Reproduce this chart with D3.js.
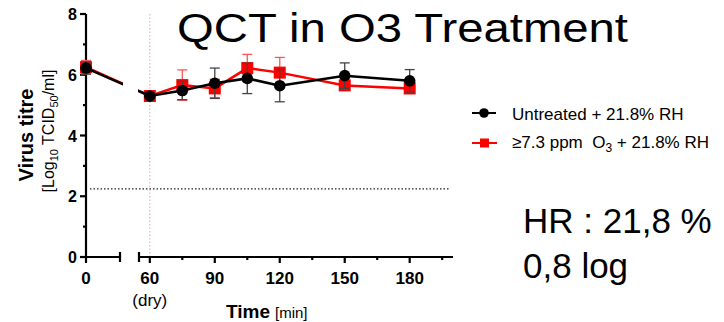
<!DOCTYPE html>
<html>
<head>
<meta charset="utf-8">
<script src="https://cdn.jsdelivr.net/npm/d3@7"></script>
<style>
  body { margin: 0; background: #fff; }
  text { font-family: Arial, "Liberation Sans", sans-serif; }
</style>
</head>
<body>
<div id="chart"></div>
<script>
// data
const times = [0, 60, 75, 90, 105, 120, 150, 180];
const untreatedMean = [6.22, 5.30, 5.48, 5.72, 5.88, 5.64, 5.97, 5.80];
const untreatedSd   = [0.20, 0.10, 0.30, 0.50, 0.50, 0.53, 0.42, 0.37];
const ozoneMean = [6.25, 5.30, 5.66, 5.55, 6.22, 6.07, 5.65, 5.55];
const ozoneSd   = [0.22, 0.10, 0.50, 0.30, 0.45, 0.50, 0.10, 0.17];
const lodValue = 2.24;
const yTicks = [0, 2, 4, 6, 8];
const yMinor = [1, 3, 5, 7];
const xTicks = [0, 60, 90, 120, 150, 180];
const xMinor = [75, 105, 135, 165, 195];

const W = 724, H = 322;
const svg = d3.select("#chart").append("svg")
  .attr("width", W).attr("height", H);

// broken x axis: 0..15 then 55..200
const x = d3.scaleLinear().domain([0, 15, 55, 200]).range([86, 120, 139, 453]);
const y = d3.scaleLinear().domain([0, 8]).range([257, 14]);

// red dotted marker at 60 (dry)
svg.append("line")
  .attr("x1", x(60)).attr("x2", x(60)).attr("y1", y(8)).attr("y2", y(0))
  .attr("stroke", "#f4a0a0").attr("stroke-width", 1).attr("stroke-dasharray", "1.5,2");

// title
svg.append("text").attr("x", 177).attr("y", 42)
  .attr("font-size", 41)
  .attr("textLength", 451).attr("lengthAdjust", "spacingAndGlyphs")
  .text("QCT in O3 Treatment");

// limit of detection
svg.append("line")
  .attr("x1", 90).attr("x2", 450).attr("y1", y(lodValue)).attr("y2", y(lodValue))
  .attr("stroke", "#222").attr("stroke-width", 1.2).attr("stroke-dasharray", "1.5,2");

// axes
const ax = svg.append("g").attr("stroke", "#000").attr("stroke-width", 2.2);
ax.append("line").attr("x1", 86).attr("x2", 86).attr("y1", y(8)).attr("y2", y(0) + 1);
yTicks.forEach(v => ax.append("line").attr("x1", 80).attr("x2", 86).attr("y1", y(v)).attr("y2", y(v)));
yMinor.forEach(v => ax.append("line").attr("x1", 83).attr("x2", 86).attr("y1", y(v)).attr("y2", y(v)));
// x segments
ax.append("line").attr("x1", 85).attr("x2", 120).attr("y1", y(0)).attr("y2", y(0));
ax.append("line").attr("x1", 139).attr("x2", 453).attr("y1", y(0)).attr("y2", y(0));
[120, 139].forEach(px => ax.append("line").attr("x1", px).attr("x2", px)
  .attr("y1", y(0) - 5).attr("y2", y(0) + 5));
xTicks.forEach(v => ax.append("line").attr("x1", x(v)).attr("x2", x(v))
  .attr("y1", y(0)).attr("y2", y(0) + 6));
xMinor.forEach(v => ax.append("line").attr("x1", x(v)).attr("x2", x(v))
  .attr("y1", y(0)).attr("y2", y(0) + 3));

svg.append("g").selectAll("text").data(yTicks).join("text")
  .attr("x", 77).attr("y", d => y(d) + 6)
  .attr("text-anchor", "end").attr("font-size", 16).attr("font-weight", "bold")
  .text(d => d);

svg.append("g").selectAll("text").data(xTicks).join("text")
  .attr("x", d => x(d)).attr("y", y(0) + 27)
  .attr("text-anchor", "middle").attr("font-size", 17).attr("font-weight", "bold")
  .text(d => d);

svg.append("text").attr("x", x(60)).attr("y", 306)
  .attr("text-anchor", "middle").attr("font-size", 17).text("(dry)");

const xt = svg.append("text").attr("x", 226).attr("y", 318);
xt.append("tspan").attr("font-size", 19).attr("font-weight", "bold").text("Time");
xt.append("tspan").attr("font-size", 15).attr("dx", 5).text("[min]");

// y labels
svg.append("text").attr("transform", "translate(33,135) rotate(-90)")
  .attr("text-anchor", "middle").attr("font-size", 20).attr("font-weight", "bold")
  .text("Virus titre");
const yl = svg.append("text").attr("transform", "translate(54,131) rotate(-90)")
  .attr("text-anchor", "middle").attr("font-size", 16);
yl.append("tspan").text("[Log");
yl.append("tspan").attr("font-size", 11).attr("dy", 4).text("10");
yl.append("tspan").attr("dy", -4).text(" TCID");
yl.append("tspan").attr("font-size", 11).attr("dy", 4).text("50");
yl.append("tspan").attr("dy", -4).text("/ml]");

// clip lines at the axis break
const defs = svg.append("defs");
const clip = defs.append("clipPath").attr("id", "brk");
clip.append("rect").attr("x", 0).attr("y", 0).attr("width", 123).attr("height", H);
clip.append("rect").attr("x", 138).attr("y", 0).attr("width", W - 138).attr("height", H);

function series(mean, sd, color, barColor, shape) {
  const pts = times.map((t, i) => ({ t, m: mean[i], s: sd[i] }));
  const g = svg.append("g");
  g.selectAll("g.eb").data(pts).join("g").attr("class", "eb")
    .attr("stroke", barColor).attr("stroke-width", 1.3)
    .each(function (d) {
      const e = d3.select(this);
      e.append("line").attr("x1", x(d.t)).attr("x2", x(d.t))
        .attr("y1", y(d.m + d.s)).attr("y2", y(d.m - d.s));
      [d.m + d.s, d.m - d.s].forEach(v => e.append("line")
        .attr("x1", x(d.t) - 5).attr("x2", x(d.t) + 5).attr("y1", y(v)).attr("y2", y(v)));
    });
  g.append("path").datum(pts)
    .attr("clip-path", "url(#brk)")
    .attr("fill", "none").attr("stroke", color).attr("stroke-width", 2.5)
    .attr("d", d3.line().x(d => x(d.t)).y(d => y(d.m)));
  if (shape === "circle") {
    g.selectAll("circle").data(pts).join("circle")
      .attr("cx", d => x(d.t)).attr("cy", d => y(d.m)).attr("r", 5.8).attr("fill", color);
  } else {
    g.selectAll("rect").data(pts).join("rect")
      .attr("x", d => x(d.t) - 6).attr("y", d => y(d.m) - 6)
      .attr("width", 12).attr("height", 12).attr("fill", color);
  }
}
series(ozoneMean, ozoneSd, "#ff0000", "#f55", "square");
series(untreatedMean, untreatedSd, "#000", "#444", "circle");

// legend
const lg = svg.append("g");
lg.append("line").attr("x1", 472).attr("x2", 496).attr("y1", 113).attr("y2", 113)
  .attr("stroke", "#000").attr("stroke-width", 2);
lg.append("circle").attr("cx", 484).attr("cy", 113).attr("r", 4.8).attr("fill", "#000");
lg.append("text").attr("x", 512).attr("y", 120).attr("font-size", 17)
  .text("Untreated + 21.8% RH");
lg.append("line").attr("x1", 472).attr("x2", 497).attr("y1", 143).attr("y2", 143)
  .attr("stroke", "#ff0000").attr("stroke-width", 2);
lg.append("rect").attr("x", 480).attr("y", 138.5).attr("width", 9).attr("height", 9).attr("fill", "#ff0000");
const l2 = lg.append("text").attr("x", 512).attr("y", 148).attr("font-size", 17)
  .style("white-space", "pre");
l2.append("tspan").text("\u22657.3 ppm  O");
l2.append("tspan").attr("font-size", 12).attr("dy", 4).text("3");
l2.append("tspan").attr("dy", -4).text(" + 21.8% RH");

// annotations
svg.append("text").attr("x", 523).attr("y", 233).attr("font-size", 35).text("HR : 21,8 %");
svg.append("text").attr("x", 523).attr("y", 278).attr("font-size", 35).text("0,8 log");
</script>
</body>
</html>
